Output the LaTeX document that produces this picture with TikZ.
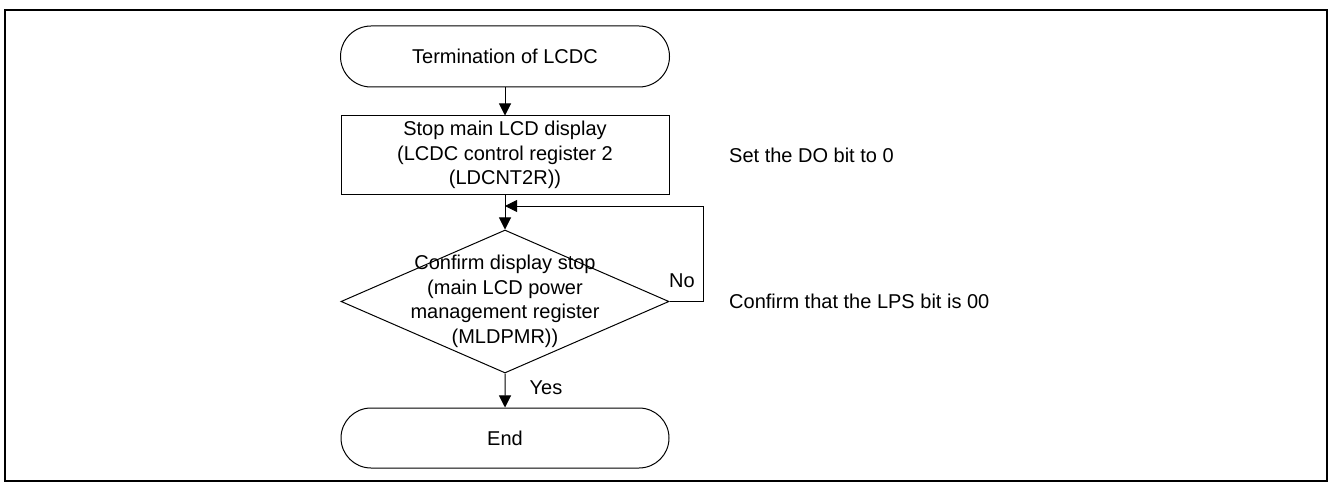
\documentclass[tikz,border=0pt]{standalone}
\usepackage{fontspec}
\setmainfont{Liberation Sans}
\usetikzlibrary{shapes.misc,shapes.geometric,arrows.meta}
\begin{document}
\begin{tikzpicture}[x=1pt,y=-1pt,
  every node/.style={font=\fontsize{20}{24.5}\selectfont, inner sep=0pt},
  term/.style={draw, line width=1pt, rounded rectangle, minimum width=329pt, minimum height=61pt},
  procbox/.style={draw, line width=1pt, rectangle, minimum width=328pt, minimum height=78pt, align=center},
  decide/.style={draw, line width=1pt, diamond, minimum width=328pt, minimum height=143pt},
  flow/.style={line width=1pt, -{Triangle[length=12pt,width=12pt]}},
  lbl/.style={anchor=center},
  note/.style={anchor=west}]
\useasboundingbox (0,0) rectangle (1328,484);
\draw[line width=2pt] (5,10) rectangle (1327,481);
\node[term] (start) at (505,56.5) {Termination of LCDC};
\node[procbox] (stop) at (505,155) {Stop main LCD display\\(LCDC control register 2\\(LDCNT2R))};
\node[decide] (dia) at (505,301.5) {};
\node[align=center] (dtext) at (505,301.5) {Confirm display stop\\(main LCD power\\management register\\(MLDPMR))};
\node[term, minimum width=328pt, minimum height=60pt] (end) at (505,438) {End};
\coordinate (lp) at (703,206);
\coordinate (j) at (505,206);
\draw[flow] (start) -- (stop);
\draw[flow] (stop) -- (dia);
\draw[flow] (dia) -- (end);
\draw[flow] (dia.east) -| (lp) -- (j);
\node[lbl] (no) at (682,281) {No};
\node[lbl] (yes) at (546,388) {Yes};
\node[note] (n1) at (729,155) {Set the DO bit to 0};
\node[note] (n2) at (729,301) {Confirm that the LPS bit is 00};
\end{tikzpicture}
\end{document}
